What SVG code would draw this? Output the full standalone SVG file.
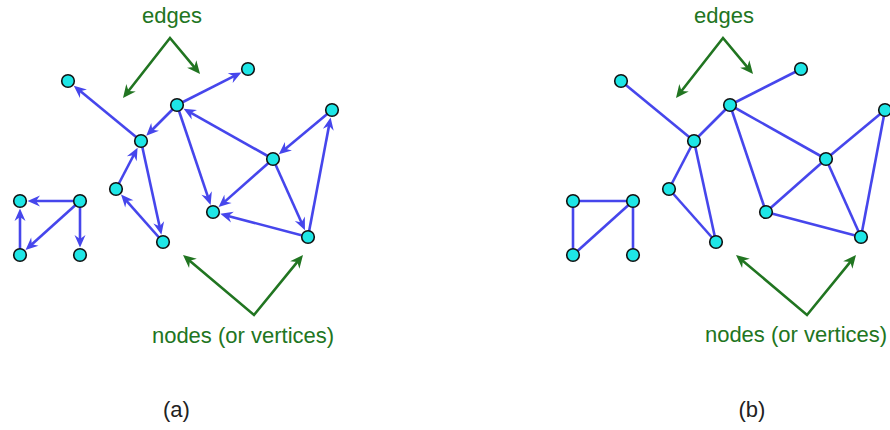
<svg xmlns="http://www.w3.org/2000/svg" width="890" height="430" viewBox="0 0 890 430">
  <style>
    .edge { stroke: #4646ec; stroke-width: 2.6; fill: none; }
    .dir { marker-end: url(#blueHead); }
    .node { fill: #1ee6e6; stroke: #111; stroke-width: 1.6; }
    .callout { stroke: #217521; stroke-width: 2.6; fill: none; stroke-linejoin: miter;
               marker-start: url(#greenHead); marker-end: url(#greenHead); }
    .note { font-family: "Liberation Sans", Arial, sans-serif; font-size: 22px; fill: #217521; text-anchor: middle; }
    .caption { font-family: "Liberation Sans", Arial, sans-serif; font-size: 22px; fill: #222; text-anchor: middle; }
  </style>
  <defs>
    <marker id="blueHead" viewBox="-13 -6 14 12" refX="-6" refY="0" markerWidth="14" markerHeight="12"
            markerUnits="userSpaceOnUse" orient="auto">
      <path d="M0,0 L-12.5,-5.5 L-8.5,0 L-12.5,5.5 Z" fill="#4646ec"/>
    </marker>
    <marker id="greenHead" viewBox="-14 -7 15 14" refX="-6" refY="0" markerWidth="15" markerHeight="14"
            markerUnits="userSpaceOnUse" orient="auto-start-reverse">
      <path d="M0,0 L-13,-6 L-9,0 L-13,6 Z" fill="#217521"/>
    </marker>
  </defs>

  <!-- (a) directed graph -->
  <g id="edges-a">
    <path class="edge dir" d="M141,141 L78.4,89.6"/>
    <path class="edge dir" d="M177,105 L236.0,75.1"/>
    <path class="edge dir" d="M177,105 L150.5,131.5"/>
    <path class="edge dir" d="M273,159 L188.8,111.6"/>
    <path class="edge dir" d="M177,105 L208.7,199.2"/>
    <path class="edge dir" d="M332,110 L283.4,150.4"/>
    <path class="edge dir" d="M273,159 L223.1,203.1"/>
    <path class="edge dir" d="M273,159 L302.5,224.7"/>
    <path class="edge dir" d="M308,237 L329.5,123.3"/>
    <path class="edge dir" d="M308,237 L226.1,215.4"/>
    <path class="edge dir" d="M116,189 L134.8,153.0"/>
    <path class="edge dir" d="M141,141 L160.1,228.8"/>
    <path class="edge dir" d="M163,242 L125.0,199.1"/>
    <path class="edge dir" d="M80,201 L33.5,201"/>
    <path class="edge dir" d="M20,255 L20,214.5"/>
    <path class="edge dir" d="M80,201 L30.0,246.0"/>
    <path class="edge dir" d="M80,201 L80,241.5"/>
  </g>
  <g id="a-n1"><circle class="node" cx="68" cy="81" r="6.3"/></g>
  <g id="a-n2"><circle class="node" cx="248" cy="69" r="6.3"/></g>
  <g id="a-n3"><circle class="node" cx="177" cy="105" r="6.3"/></g>
  <g id="a-n4"><circle class="node" cx="141" cy="141" r="6.3"/></g>
  <g id="a-n5"><circle class="node" cx="332" cy="110" r="6.3"/></g>
  <g id="a-n6"><circle class="node" cx="273" cy="159" r="6.3"/></g>
  <g id="a-n7"><circle class="node" cx="116" cy="189" r="6.3"/></g>
  <g id="a-n8"><circle class="node" cx="213" cy="212" r="6.3"/></g>
  <g id="a-n9"><circle class="node" cx="163" cy="242" r="6.3"/></g>
  <g id="a-n10"><circle class="node" cx="308" cy="237" r="6.3"/></g>
  <g id="a-s1"><circle class="node" cx="20" cy="201" r="6.3"/></g>
  <g id="a-s2"><circle class="node" cx="80" cy="201" r="6.3"/></g>
  <g id="a-s3"><circle class="node" cx="20" cy="255" r="6.3"/></g>
  <g id="a-s4"><circle class="node" cx="80" cy="255" r="6.3"/></g>

  <g id="callouts-a">
    <path class="callout" d="M126.7,93.3 L170,38 L196.2,69.4"/>
    <path class="callout" d="M187.6,258.9 L254,315 L299.2,259.6"/>
  </g>
  <text class="note" x="172" y="23">edges</text>
  <text class="note" x="243" y="343">nodes (or vertices)</text>
  <text class="caption" x="176.5" y="417">(a)</text>

  <!-- (b) undirected graph -->
  <g id="edges-b">
    <path class="edge" d="M621,81 L694,141"/>
    <path class="edge" d="M730,105 L801,69"/>
    <path class="edge" d="M730,105 L694,141"/>
    <path class="edge" d="M826,159 L730,105"/>
    <path class="edge" d="M730,105 L766,212"/>
    <path class="edge" d="M885,110 L826,159"/>
    <path class="edge" d="M826,159 L766,212"/>
    <path class="edge" d="M826,159 L861,237"/>
    <path class="edge" d="M861,237 L885,110"/>
    <path class="edge" d="M861,237 L766,212"/>
    <path class="edge" d="M669,189 L694,141"/>
    <path class="edge" d="M694,141 L716,242"/>
    <path class="edge" d="M716,242 L669,189"/>
    <path class="edge" d="M633,201 L573,201"/>
    <path class="edge" d="M573,255 L573,201"/>
    <path class="edge" d="M633,201 L573,255"/>
    <path class="edge" d="M633,201 L633,255"/>
  </g>
  <g id="b-n1"><circle class="node" cx="621" cy="81" r="6.3"/></g>
  <g id="b-n2"><circle class="node" cx="801" cy="69" r="6.3"/></g>
  <g id="b-n3"><circle class="node" cx="730" cy="105" r="6.3"/></g>
  <g id="b-n4"><circle class="node" cx="694" cy="141" r="6.3"/></g>
  <g id="b-n5"><circle class="node" cx="885" cy="110" r="6.3"/></g>
  <g id="b-n6"><circle class="node" cx="826" cy="159" r="6.3"/></g>
  <g id="b-n7"><circle class="node" cx="669" cy="189" r="6.3"/></g>
  <g id="b-n8"><circle class="node" cx="766" cy="212" r="6.3"/></g>
  <g id="b-n9"><circle class="node" cx="716" cy="242" r="6.3"/></g>
  <g id="b-n10"><circle class="node" cx="861" cy="237" r="6.3"/></g>
  <g id="b-s1"><circle class="node" cx="573" cy="201" r="6.3"/></g>
  <g id="b-s2"><circle class="node" cx="633" cy="201" r="6.3"/></g>
  <g id="b-s3"><circle class="node" cx="573" cy="255" r="6.3"/></g>
  <g id="b-s4"><circle class="node" cx="633" cy="255" r="6.3"/></g>

  <g id="callouts-b">
    <path class="callout" d="M679.7,93.3 L723,38 L749.2,69.4"/>
    <path class="callout" d="M740.6,258.9 L807,315 L852.2,259.6"/>
  </g>
  <text class="note" x="724" y="23">edges</text>
  <text class="note" x="796" y="342">nodes (or vertices)</text>
  <text class="caption" x="752" y="417">(b)</text>
</svg>
